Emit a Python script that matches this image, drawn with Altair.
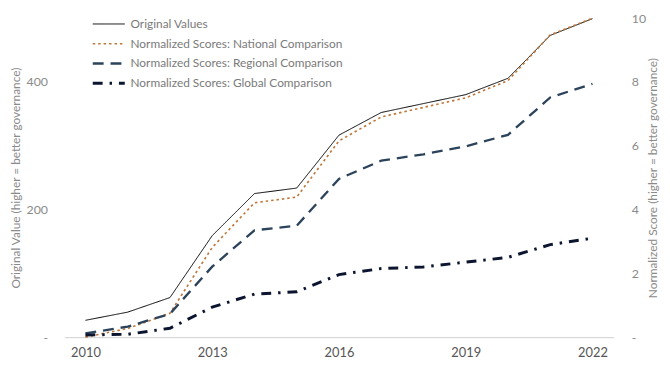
import altair as alt
import pandas as pd

years = list(range(2010, 2023))
original = [26.4, 39.2, 62, 159, 225, 233.6, 316.5, 352, 366, 380, 405.6, 472.8, 499]
national = [0.0, 0.27, 0.75, 2.81, 4.21, 4.39, 6.15, 6.9, 7.2, 7.5, 8.04, 9.47, 10.0]
regional = [0.12, 0.33, 0.73, 2.21, 3.35, 3.49, 4.96, 5.53, 5.73, 5.98, 6.34, 7.51, 7.94]
global_ = [0.07, 0.09, 0.28, 0.94, 1.35, 1.42, 1.96, 2.15, 2.2, 2.35, 2.5, 2.9, 3.1]

series_names = [
    "Original Values",
    "Normalized Scores: National Comparison",
    "Normalized Scores: Regional Comparison",
    "Normalized Scores: Global Comparison",
]
series_colors = ["#000000", "#C0783A", "#2C435C", "#0B1530"]
series_dashes = [[1, 0], [2.5, 3], [11, 7], [10, 7, 2.5, 7]]
series_widths = [1, 3, 3.5, 3.5]

rows = []
for name, vals in zip(series_names, [original, national, regional, global_]):
    for y, v in zip(years, vals):
        rows.append({"year": y, "series": name, "value": v})
df = pd.DataFrame(rows)

FONT = "Lato"
GRAY = "#8a8a8a"

x_enc = alt.X(
    "year:Q",
    scale=alt.Scale(domain=[2009.5, 2022.5], nice=False, zero=False),
    axis=alt.Axis(
        values=[2010, 2013, 2016, 2019, 2022], format="d", title=None,
        grid=False, ticks=False, domain=True, domainColor="#d0d0d0",
        labelColor="#555555", labelFontSize=13, labelPadding=10, labelFont=FONT,
    ),
)

color_enc = alt.Color(
    "series:N",
    scale=alt.Scale(domain=series_names, range=series_colors),
    legend=alt.Legend(
        title=None, orient="none", legendX=27, legendY=-3,
        symbolType="stroke", symbolSize=1050, clipHeight=18, rowPadding=2,
        labelFont=FONT, labelFontSize=12, labelColor="#7a7a7a", labelLimit=400,
        labelOffset=4,
    ),
)
dash_enc = alt.StrokeDash(
    "series:N", scale=alt.Scale(domain=series_names, range=series_dashes), legend=None
)
width_enc = alt.StrokeWidth(
    "series:N", scale=alt.Scale(domain=series_names, range=series_widths), legend=None
)

base = alt.Chart(df)

left = base.transform_filter(alt.datum.series == series_names[0]).mark_line().encode(
    x=x_enc,
    y=alt.Y(
        "value:Q",
        scale=alt.Scale(domain=[0, 500], nice=False),
        axis=alt.Axis(
            orient="left", values=[0, 200, 400], grid=False, ticks=False, domain=False,
            labelExpr="datum.value == 0 ? '-' : datum.label",
            title="Original Value (higher = better governance)",
            titleFont=FONT, titleFontSize=12, titleFontWeight="normal", titleColor=GRAY,
            labelFont=FONT, labelFontSize=12.5, labelColor=GRAY, labelPadding=17,
            titlePadding=4,
        ),
    ),
    color=color_enc,
    strokeDash=dash_enc,
    strokeWidth=width_enc,
)

right = base.transform_filter(alt.datum.series != series_names[0]).mark_line().encode(
    x=x_enc,
    y=alt.Y(
        "value:Q",
        scale=alt.Scale(domain=[0, 10], nice=False),
        axis=alt.Axis(
            orient="right", values=[0, 2, 4, 6, 8, 10], grid=False, ticks=False, domain=False,
            labelExpr="datum.value == 0 ? '-' : datum.label",
            title="Normalized Score (higher = better governance)",
            titleFont=FONT, titleFontSize=12, titleFontWeight="normal", titleColor=GRAY,
            titleAngle=270, titleBaseline="top",
            labelFont=FONT, labelFontSize=12.5, labelColor=GRAY, labelPadding=18,
            titlePadding=2,
        ),
    ),
    color=color_enc,
    strokeDash=dash_enc,
    strokeWidth=width_enc,
)

chart = alt.layer(left, right).resolve_scale(y="independent").properties(
    width=556, height=323,
    autosize=alt.AutoSizeParams(type="none"),
    padding={"left": 57, "top": 8, "right": 49, "bottom": 25},
).configure_view(stroke=None).configure_legend(strokeColor=None)

chart.save("out.html", embed_options={"renderer": "svg", "actions": False})
